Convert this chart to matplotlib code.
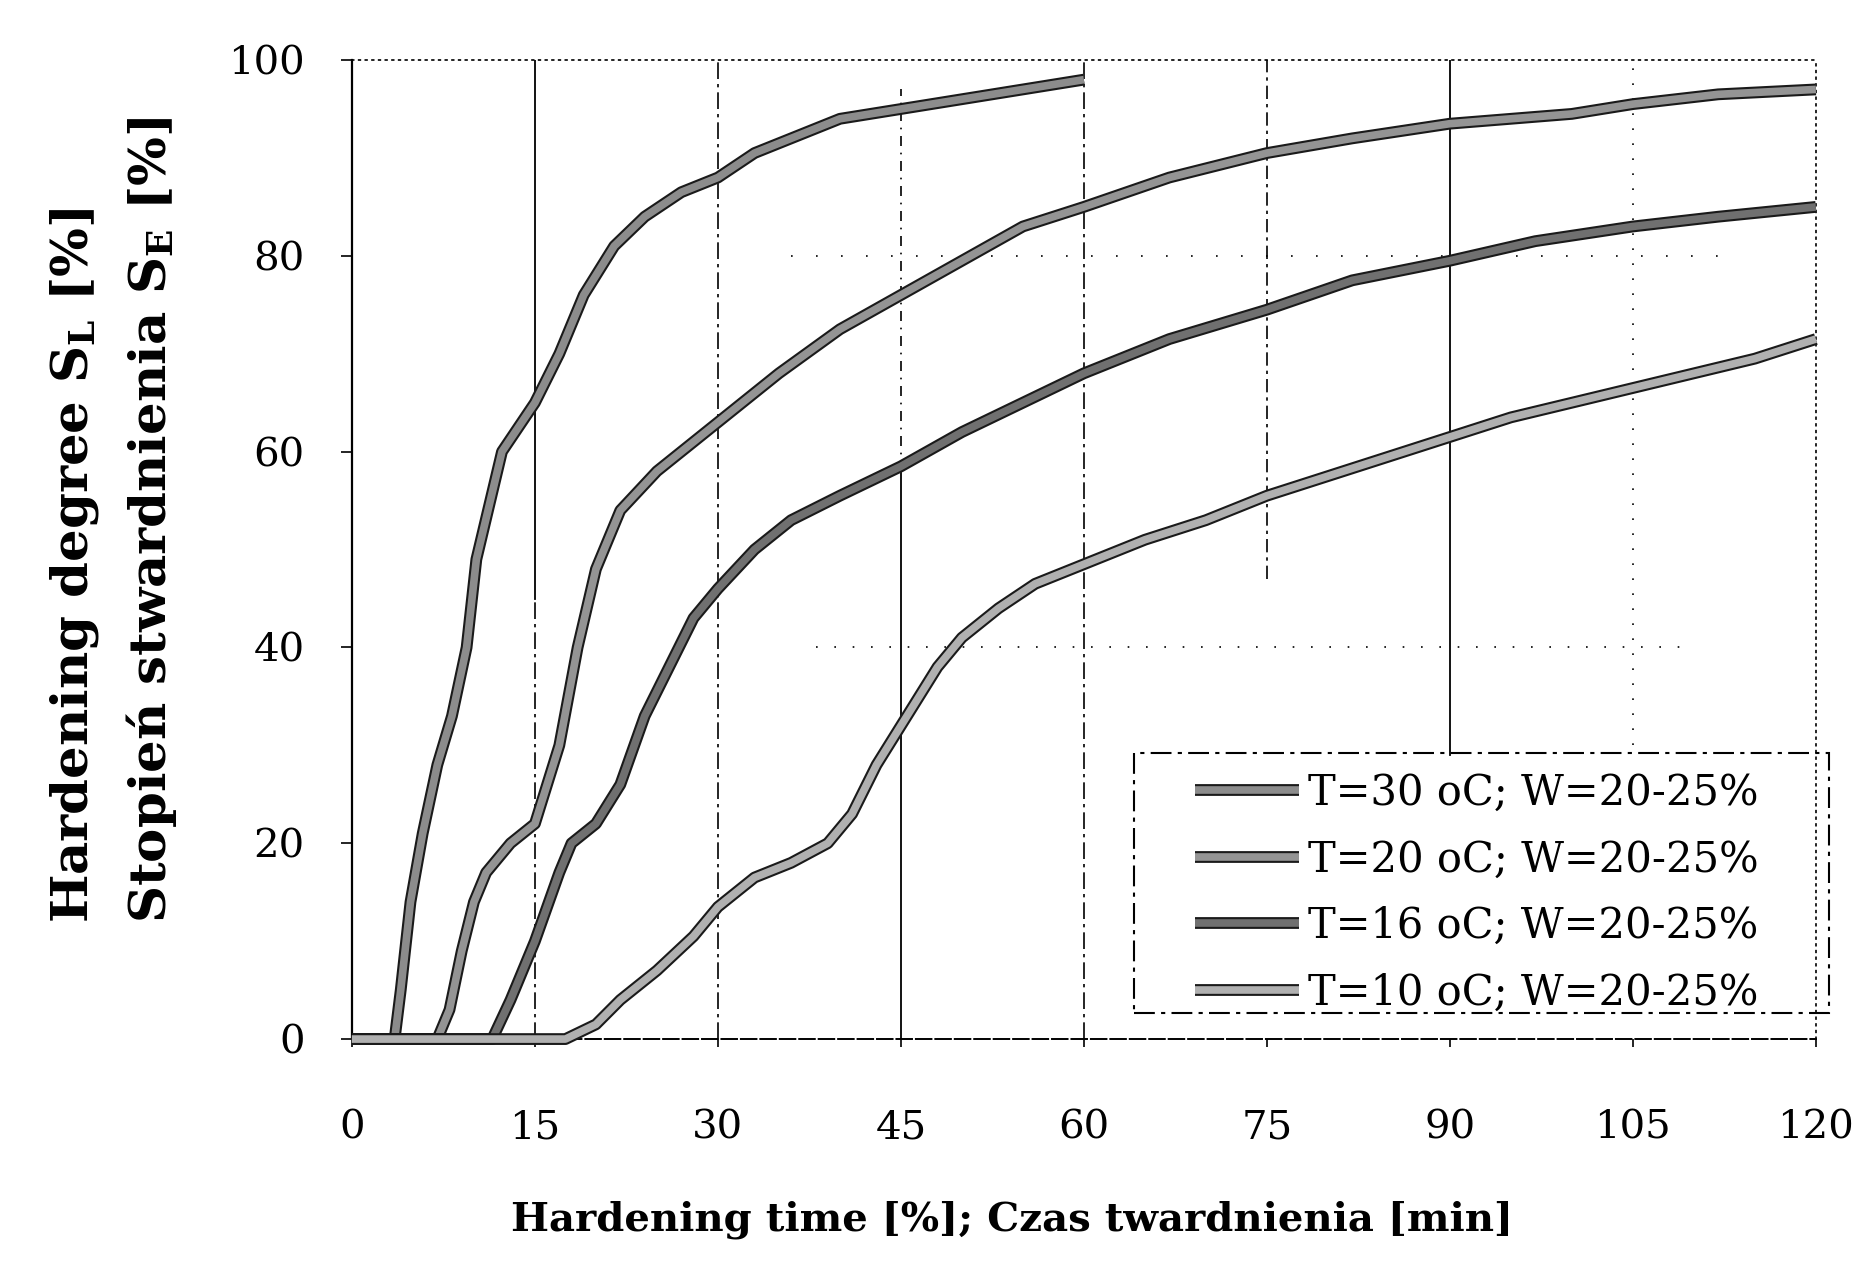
import numpy as np
import matplotlib
matplotlib.use("Agg")
import matplotlib.pyplot as plt
import matplotlib.patheffects as pe
from matplotlib.patches import Rectangle

# Hardening curves, time [min] vs hardening degree [%]
t30 = [0, 3.5, 4.0, 4.8, 5.8, 7.0, 8.2, 9.4, 10.2, 12.3, 15, 17, 19, 21.5, 24, 27, 30,
       33, 37, 40, 45, 50, 55, 60]
s30 = [0, 0, 5, 14, 21, 28, 33, 40, 49, 60, 65, 70, 76, 81, 84, 86.5, 88,
       90.5, 92.5, 94, 95, 96, 97, 98]

t20 = [0, 7, 8, 9, 10, 11, 13, 15, 17, 18.5, 20, 22, 25, 27, 30, 35, 40, 45, 50, 55,
       60, 67, 75, 82, 90, 100, 105, 112, 120]
s20 = [0, 0, 3, 9, 14, 17, 20, 22, 30, 40, 48, 54, 58, 60, 63, 68, 72.5, 76, 79.5, 83,
       85, 88, 90.5, 92, 93.5, 94.5, 95.5, 96.5, 97]

t16 = [0, 11.5, 13, 15, 17, 18, 20, 22, 24, 26, 28, 30, 33, 36, 40, 45, 50, 55, 60,
       67, 75, 82, 90, 97, 105, 112, 120]
s16 = [0, 0, 4, 10, 17, 20, 22, 26, 33, 38, 43, 46, 50, 53, 55.5, 58.5, 62, 65, 68,
       71.5, 74.5, 77.5, 79.5, 81.5, 83, 84, 85]

t10 = [0, 17.5, 20, 22, 25, 28, 30, 33, 36, 39, 41, 43, 45, 48, 50, 53, 56, 60, 65,
       70, 75, 80, 85, 90, 95, 100, 105, 110, 115, 120]
s10 = [0, 0, 1.5, 4, 7, 10.5, 13.5, 16.5, 18, 20, 23, 28, 32, 38, 41, 44, 46.5, 48.5, 51,
       53, 55.5, 57.5, 59.5, 61.5, 63.5, 65, 66.5, 68, 69.5, 71.5]

labels = ["T=30 oC; W=20-25%", "T=20 oC; W=20-25%",
          "T=16 oC; W=20-25%", "T=10 oC; W=20-25%"]
x_ticks = [0, 15, 30, 45, 60, 75, 90, 105, 120]
y_ticks = [0, 20, 40, 60, 80, 100]

plt.rcParams["font.family"] = ["DejaVu Serif"]
plt.rcParams["mathtext.fontset"] = "dejavuserif"

fig = plt.figure(figsize=(18.67, 12.67), dpi=100)
ax = fig.add_axes([0.1885, 0.1799, 0.7841, 0.7727])
ax.set_xlim(0, 120)
ax.set_ylim(0, 100)

dashdot = (0, (10, 3, 2, 3))

# grid: each vertical line got its own style in the original sheet
ax.axvline(15, ymin=0.45, ymax=1, color="black", lw=1.3)
ax.axvline(15, ymin=0, ymax=0.45, color="black", lw=1.2, ls=dashdot)
ax.axvline(30, color="black", lw=1.2, ls=dashdot)
ax.axvline(45, ymin=0, ymax=0.58, color="black", lw=1.3)
ax.axvline(45, ymin=0.58, ymax=0.97, color="black", lw=1.2, ls=(0, (6, 4, 1, 4)))
ax.axvline(60, color="black", lw=1.2, ls=dashdot)
ax.axvline(75, ymin=0.47, ymax=1, color="black", lw=1.2, ls=(0, (8, 3, 2, 3)))
ax.axvline(90, ymin=0.29, ymax=1, color="black", lw=1.3)
ax.axvline(105, ymin=0.3, ymax=1, color="black", lw=1.2, ls=(0, (1, 8)))
ax.hlines(80, 36, 112, color="black", lw=1.2, ls=(0, (1, 14)))
ax.hlines(40, 38, 110, color="black", lw=1.2, ls=(0, (1, 10)))

for side in ["top", "right"]:
    ax.spines[side].set_linestyle((0, (1, 3)))
    ax.spines[side].set_linewidth(1.2)
ax.spines["left"].set_linewidth(1.6)
ax.spines["bottom"].set_linestyle((0, (8, 2)))
ax.spines["bottom"].set_linewidth(1.4)

series = [(t30, s30, "#8c8c8c"), (t20, s20, "#949494"),
          (t16, s16, "#707070"), (t10, s10, "#b0b0b0")]
handles = []
for (t, s, col), lab in zip(series, labels):
    line, = ax.plot(t, s, color=col, lw=5.5, solid_capstyle="butt", clip_on=False,
                    label=lab, zorder=3,
                    path_effects=[pe.Stroke(linewidth=8.5, foreground="#1a1a1a"),
                                  pe.Normal()])
    handles.append(line)

ax.set_xticks(x_ticks)
ax.set_yticks(y_ticks)
ax.set_xticklabels([str(v) for v in x_ticks])
ax.set_yticklabels([str(v) for v in y_ticks])
ax.tick_params(axis="x", direction="out", length=6, width=1.2, pad=45, labelsize=29)
ax.tick_params(axis="y", direction="out", length=8, width=1.2, pad=26, labelsize=29)

# legend frame drawn separately, dash-dot border
box = Rectangle((0.534, 0.027), 0.475, 0.265, transform=ax.transAxes, fill=False,
                edgecolor="black", lw=1.5, ls=dashdot, clip_on=False, zorder=4)
ax.add_patch(box)
ax.legend(handles=handles, loc="upper left", bbox_to_anchor=(0.576, 0.273),
          frameon=False, fontsize=30, handlelength=2.5, handletextpad=0.2,
          labelspacing=0.59, borderpad=0, borderaxespad=0)

fig.text(0.542, 0.022, "Hardening time [%]; Czas twardnienia [min]",
         ha="center", va="bottom", fontsize=29, fontweight="bold")
fig.text(0.040, 0.2715, r"Hardening degree S$_\mathregular{L}$ [%]",
         rotation=90, ha="center", va="bottom", fontsize=37, fontweight="bold")
fig.text(0.081, 0.2715, r"Stopień stwardnienia S$_\mathregular{E}$ [%]",
         rotation=90, ha="center", va="bottom", fontsize=37, fontweight="bold")

fig.savefig("out.png", dpi=100, facecolor="white")
